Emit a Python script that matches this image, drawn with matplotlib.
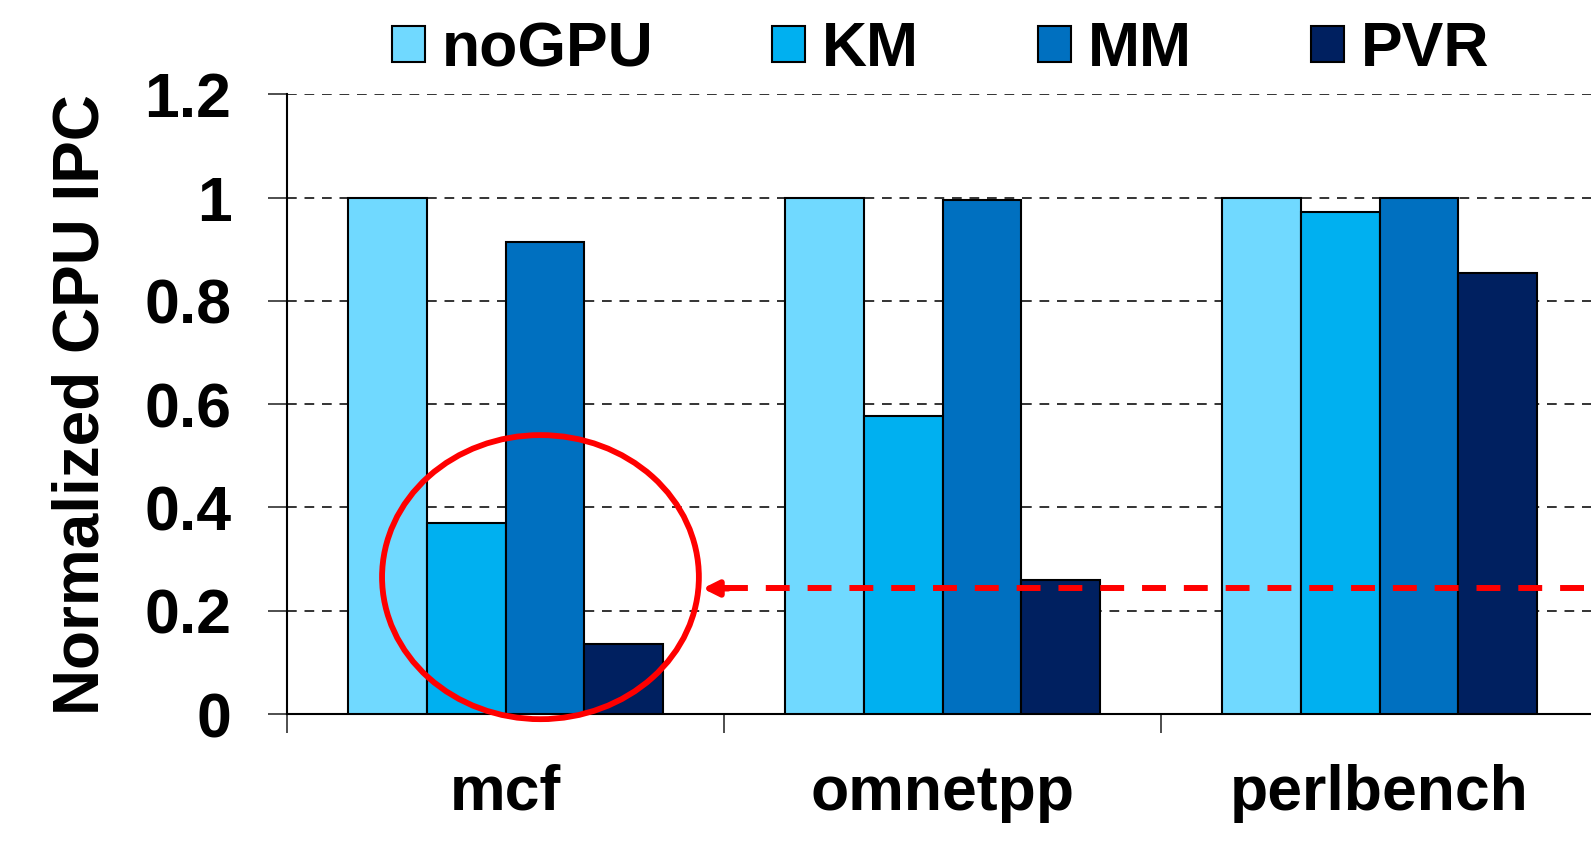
import matplotlib
matplotlib.use("Agg")
import matplotlib.pyplot as plt
import numpy as np
from matplotlib.patches import Ellipse, Patch

categories = ["mcf", "omnetpp", "perlbench"]
series_names = ["noGPU", "KM", "MM", "PVR"]
noGPU = [1.0, 1.0, 1.0]
KM = [0.369, 0.576, 0.971]
MM = [0.914, 0.996, 1.0]
PVR = [0.136, 0.259, 0.853]
yticks = [0, 0.2, 0.4, 0.6, 0.8, 1.0, 1.2]
ytick_labels = ["0", "0.2", "0.4", "0.6", "0.8", "1", "1.2"]
colors = ["#70D9FF", "#00B0F0", "#0070C0", "#002060"]

plt.rcParams['font.family'] = ['Liberation Sans', 'DejaVu Sans']
plt.rcParams['font.weight'] = 'bold'

fig = plt.figure(figsize=(15.91, 8.42), dpi=100)
ax = fig.add_axes([287/1591, 1-714/842, (1598-287)/1591, (714-94.2)/842])

x = np.arange(len(categories))
w = 0.18
data = [noGPU, KM, MM, PVR]
for i, (vals, c) in enumerate(zip(data, colors)):
    ax.bar(x + (i - 1.5) * w, vals, width=w, color=c, edgecolor='black',
           linewidth=1.5, zorder=3, label=series_names[i])

ax.set_xlim(-0.5, 2.5)
ax.set_ylim(0, 1.2)
ax.set_yticks(yticks)
ax.set_yticklabels(ytick_labels)
for yv in yticks[1:]:
    ax.axhline(yv, color='#333333', linestyle=(0, (5, 4)), linewidth=1.4, zorder=2)

ax.set_xticks(x)
ax.set_xticklabels(categories)
ax.set_xticks([-0.5, 0.5, 1.5, 2.5], minor=True)
ax.tick_params(axis='x', which='major', length=0, pad=36, labelsize=45)
ax.tick_params(axis='x', which='minor', length=14, width=1.3, color='#404040', direction='out')
ax.tick_params(axis='y', length=14, width=1.3, color='#404040', direction='out', pad=26, labelsize=45)
for lab in ax.get_xticklabels() + ax.get_yticklabels():
    lab.set_fontweight('bold')

ax.spines['top'].set_visible(False)
ax.spines['right'].set_visible(False)
ax.spines['left'].set_linewidth(1.5)
ax.spines['bottom'].set_linewidth(1.5)

ax.set_ylabel("Normalized CPU IPC", fontsize=46, fontweight='bold')
ax.yaxis.set_label_coords(-0.134, 0.5)

# Red ellipse
ell = Ellipse((0.08, 0.265), 0.725, 0.55, fill=False, edgecolor='#FF0000',
              linewidth=4.2, zorder=5, clip_on=False)
ax.add_patch(ell)

# Red dashed arrow
ax.plot([0.50, 2.6], [0.243, 0.243], color='#FF0000', linewidth=4.3,
        dashes=(4, 3), zorder=5, clip_on=False, solid_capstyle='butt',
        dash_capstyle='butt')
ax.annotate('', xy=(0.451, 0.243), xytext=(0.51, 0.243),
            arrowprops=dict(arrowstyle='-|>,head_length=0.9,head_width=0.45',
                            color='#FF0000', linewidth=4.3, shrinkA=0, shrinkB=0),
            zorder=6)

handles = [Patch(facecolor=c, edgecolor='black', linewidth=1.5) for c in colors]
fig.legend(handles, series_names, loc='center', bbox_to_anchor=(0.591, 0.941),
           ncol=4, frameon=False, fontsize=45, handlelength=0.53, handleheight=0.53,
           handletextpad=0.27, columnspacing=1.9, borderaxespad=0, borderpad=0,
           prop={'weight': 'bold', 'size': 45})

fig.savefig("out.png", dpi=100)
